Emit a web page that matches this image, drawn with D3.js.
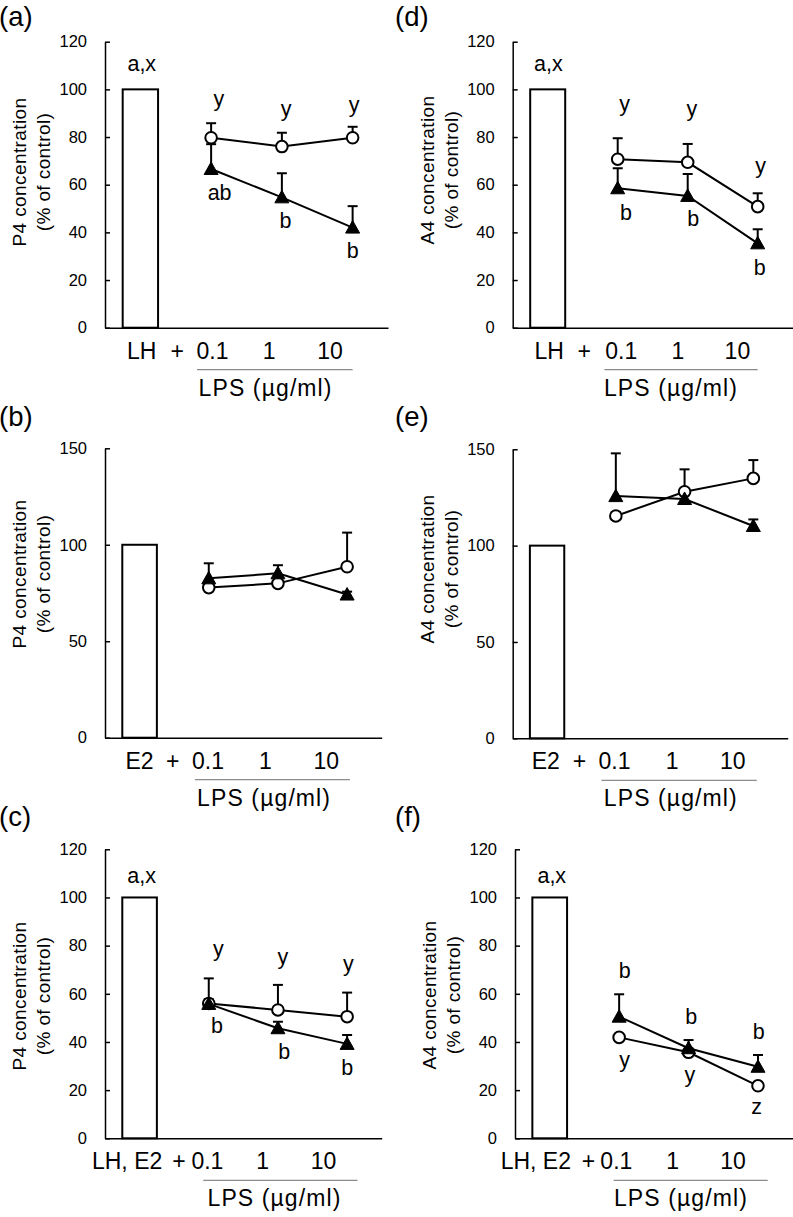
<!DOCTYPE html>
<html>
<head>
<meta charset="utf-8">
<script src="https://cdn.jsdelivr.net/npm/d3@7/dist/d3.min.js"></script>
<style>
  html, body { margin: 0; padding: 0; background: #fff; }
  svg { display: block; font-family: "Liberation Sans", Arial, sans-serif; }
</style>
</head>
<body>
<svg id="chart" width="793" height="1217"></svg>
<script>
// ---------------- DATA ----------------
const doses = ["0.1", "1", "10"];
const controlValue = 100;

// (a) P4, LH
const circleA = [79.7, 76.0, 79.7];
const circleErrA = [6.1, 5.8, 4.6];
const triA = [66.6, 54.7, 42.0];
const triErrA = [10.4, 10.1, 9.0];
// (b) P4, E2
const circleB = [77.8, 80.0, 88.6];
const circleErrB = [3.0, 4.0, 17.7];
const triB = [82.6, 85.2, 74.2];
const triErrB = [7.8, 4.2, 1.5];
// (c) P4, LH+E2
const circleC = [56.0, 53.3, 50.5];
const circleErrC = [10.4, 10.4, 10.0];
const triC = [55.8, 45.7, 39.2];
const triErrC = [2.0, 2.7, 3.7];
// (d) A4, LH
const circleD = [70.7, 69.4, 50.8];
const circleErrD = [8.8, 7.7, 5.6];
const triD = [58.5, 55.3, 35.4];
const triErrD = [8.4, 9.2, 5.9];
// (e) A4, E2
const circleE = [115.4, 128.0, 134.9];
const circleErrE = [2.0, 11.6, 9.5];
const triE = [125.7, 124.2, 110.2];
const triErrE = [22.2, 3.0, 3.4];
// (f) A4, LH+E2
const circleF = [41.9, 35.7, 21.8];
const circleErrF = [1.0, 1.0, 1.0];
const triF = [50.5, 37.4, 29.7];
const triErrF = [9.3, 3.4, 4.9];

// tick labels
const ticksLH = ["LH", "+", "0.1", "1", "10"];
const ticksE2 = ["E2", "+", "0.1", "1", "10"];
const ticksLHE2 = ["LH, E2", "+", "0.1", "1", "10"];
const yTicks120 = [0, 20, 40, 60, 80, 100, 120];
const yTicks150 = [0, 50, 100, 150];
const lpsLabel = "LPS (\u00b5g/ml)";
const titleP4 = "P4 concentration";
const titleA4 = "A4 concentration";
const titleSub = "(% of control)";

// significance letters: category index, value height, text
const lettersA = [[0, 107.7, "a,x"], [1, 93.2, "y"], [2, 88.9, "y"], [3, 90.4, "y"], [1, 53.6, "ab"], [2, 41.7, "b"], [3, 29.1, "b"]];
const lettersB = [];
const lettersC = [[0, 106, "a,x"], [1, 75.6, "y"], [2, 72.3, "y"], [3, 69.4, "y"], [1, 43.9, "b"], [2, 32.8, "b"], [3, 26.1, "b"]];
const lettersD = [[0, 107.7, "a,x"], [1, 90.8, "y"], [2, 88.7, "y"], [3, 64.8, "y"], [1, 45.0, "b"], [2, 42.8, "b"], [3, 22.2, "b"]];
const lettersE = [];
const lettersF = [[0, 106, "a,x"], [1, 66.7, "b"], [2, 47.6, "b"], [3, 41.1, "b"], [1, 29.8, "y"], [2, 23.5, "y"], [3, 10.2, "z"]];

// ---------------- LAYOUT ----------------
const panels = [
  {tag: "(a)", ox: 0,   oy: 0,   ax: 105,   axEnd: 388,   yTop: 41.7,  yBot: 327.7,  yMax: 120, yTicks: yTicks120, title: titleP4, titleY: 172, ticks: ticksLH, tickPos: [0.02, 0.52, 1.02, 1.82, 2.68], line: [0.8, 3.0], lpsX: 1.77,
   c: circleA, ce: circleErrA, t: triA, te: triErrA, letters: lettersA, ldx: [0.02, 0.11, 0.06, 0.02, 0.12, 0.05, 0.0]},
  {tag: "(b)", ox: 0,   oy: 400, ax: 105,   axEnd: 381.7, yTop: 448.3, yBot: 737.7,  yMax: 150, yTicks: yTicks150, title: titleP4, titleY: 574, ticks: ticksE2, tickPos: [0, 0.48, 0.99, 1.82, 2.7], line: [0.8, 3.04], lpsX: 1.8,
   c: circleB, ce: circleErrB, t: triB, te: triErrB, letters: lettersB, ldx: []},
  {tag: "(c)", ox: 0,   oy: 800, ax: 105,   axEnd: 381.7, yTop: 849.3, yBot: 1138.3, yMax: 120, yTicks: yTicks120, title: titleP4, titleY: 996, ticks: ticksLHE2, tickPos: [-0.18, 0.57, 0.98, 1.78, 2.66], line: [0.92, 3.15], lpsX: 1.95,
   c: circleC, ce: circleErrC, t: triC, te: triErrC, letters: lettersC, ldx: [0.03, 0.14, 0.07, 0.02, 0.12, 0.09, 0.0]},
  {tag: "(d)", ox: 396, oy: 0,   ax: 512.7, axEnd: 792.7, yTop: 41.7,  yBot: 327.7,  yMax: 120, yTicks: yTicks120, title: titleA4, titleY: 170, ticks: ticksLH, tickPos: [0.02, 0.52, 1.05, 1.86, 2.71], line: [0.81, 3.0], lpsX: 1.76,
   c: circleD, ce: circleErrD, t: triD, te: triErrD, letters: lettersD, ldx: [0.01, 0.1, 0.06, 0.04, 0.12, 0.08, 0.03]},
  {tag: "(e)", ox: 396, oy: 400, ax: 512.7, axEnd: 787.7, yTop: 449.3, yBot: 738.3,  yMax: 150, yTicks: yTicks150, title: titleA4, titleY: 569, ticks: ticksE2, tickPos: [-0.02, 0.47, 0.98, 1.82, 2.7], line: [0.79, 3.05], lpsX: 1.8,
   c: circleE, ce: circleErrE, t: triE, te: triErrE, letters: lettersE, ldx: []},
  {tag: "(f)", ox: 396, oy: 800, ax: 515,   axEnd: 792.7, yTop: 849.3, yBot: 1138.3, yMax: 120, yTicks: yTicks120, title: titleA4, titleY: 995, ticks: ticksLHE2, tickPos: [-0.2, 0.56, 0.96, 1.77, 2.64], line: [0.92, 3.14], lpsX: 1.89,
   c: circleF, ce: circleErrF, t: triF, te: triErrF, letters: lettersF, ldx: [0.03, 0.08, 0.04, 0.01, 0.08, 0.02, -0.02]}
];

const svg = d3.select("#chart");
const FONT = "'Liberation Sans', Arial, sans-serif";

panels.forEach(p => {
  const g = svg.append("g");
  const x = d3.scaleLinear().domain([-0.5, 3.5]).range([p.ax, p.axEnd]);
  const y = d3.scaleLinear().domain([0, p.yMax]).range([p.yBot, p.yTop]);

  // panel tag
  g.append("text").attr("x", p.ox - 1).attr("y", p.oy + 26)
    .attr("font-size", 27.5).attr("fill", "#000").text(p.tag);

  // y title
  const tg = g.append("g").attr("transform", `translate(${p.ax - 79},${p.titleY}) rotate(-90)`);
  tg.append("text").attr("text-anchor", "middle").attr("font-size", 19).attr("letter-spacing", 0.4)
    .attr("fill", "#000").text(p.title);
  tg.append("text").attr("y", 24).attr("text-anchor", "middle").attr("font-size", 19).attr("letter-spacing", 0.4)
    .attr("fill", "#000").text(titleSub);

  // bar (control)
  const bw = (x(1) - x(0)) * 0.5;
  g.append("rect").attr("x", x(0) - bw / 2).attr("y", y(controlValue))
    .attr("width", bw).attr("height", y(0) - y(controlValue))
    .attr("fill", "#fff").attr("stroke", "#000").attr("stroke-width", 2);

  // y axis
  const yAxis = d3.axisLeft(y).tickValues(p.yTicks).tickSizeInner(-5).tickSizeOuter(0).tickPadding(18);
  const ya = g.append("g").attr("transform", `translate(${p.ax},0)`).call(yAxis);
  ya.selectAll("path, line").attr("stroke", "#000").attr("stroke-width", 1.5);
  ya.selectAll("text").attr("font-size", 16.5).attr("font-family", FONT).attr("fill", "#000");

  // x axis line
  const xAxis = d3.axisBottom(x).tickValues([]).tickSizeOuter(0);
  const xa = g.append("g").attr("transform", `translate(0,${p.yBot})`).call(xAxis);
  xa.selectAll("path").attr("stroke", "#000").attr("stroke-width", 1.5);

  // x tick labels
  p.ticks.forEach((t, i) => {
    g.append("text").attr("x", x(p.tickPos[i])).attr("y", p.yBot + 31)
      .attr("text-anchor", "middle").attr("font-size", 23).attr("fill", "#000").text(t);
  });
  // LPS grouping line & label
  g.append("line").attr("x1", x(p.line[0])).attr("x2", x(p.line[1]))
    .attr("y1", p.yBot + 42).attr("y2", p.yBot + 42)
    .attr("stroke", "#8c8c8c").attr("stroke-width", 1.2);
  g.append("text").attr("x", x(p.lpsX)).attr("y", p.yBot + 68)
    .attr("text-anchor", "middle").attr("font-size", 23).attr("letter-spacing", 1.1)
    .attr("fill", "#000").text(lpsLabel);

  const idx = [1, 2, 3];
  const line = d3.line().x(d => x(d[0])).y(d => y(d[1]));
  const circPts = idx.map((k, i) => [k, p.c[i], p.ce[i]]);
  const triPts = idx.map((k, i) => [k, p.t[i], p.te[i]]);

  // connecting lines
  [triPts, circPts].forEach(pts => {
    g.append("path").attr("d", line(pts)).attr("fill", "none")
      .attr("stroke", "#000").attr("stroke-width", 2);
  });
  // error bars (upward)
  [triPts, circPts].forEach(pts => {
    pts.forEach(d => {
      const xx = x(d[0]), y0 = y(d[1]), y1 = y(d[1] + d[2]);
      g.append("line").attr("x1", xx).attr("x2", xx).attr("y1", y0).attr("y2", y1)
        .attr("stroke", "#000").attr("stroke-width", 2);
      g.append("line").attr("x1", xx - 5).attr("x2", xx + 5).attr("y1", y1).attr("y2", y1)
        .attr("stroke", "#000").attr("stroke-width", 2);
    });
  });
  // circle markers
  circPts.forEach(d => {
    g.append("circle").attr("cx", x(d[0])).attr("cy", y(d[1])).attr("r", 5.8)
      .attr("fill", "#fff").attr("stroke", "#000").attr("stroke-width", 2);
  });
  // triangle markers
  triPts.forEach(d => {
    const cx = x(d[0]), cy = y(d[1]);
    g.append("path").attr("d", `M${cx},${cy - 7}L${cx + 7},${cy + 5.5}L${cx - 7},${cy + 5.5}Z`)
      .attr("fill", "#000").attr("stroke", "#000").attr("stroke-width", 1);
  });

  // significance letters
  p.letters.forEach((L, i) => {
    g.append("text").attr("x", x(L[0] + (p.ldx[i] || 0))).attr("y", y(L[1]))
      .attr("text-anchor", "middle").attr("font-size", 21.5).attr("fill", "#000").text(L[2]);
  });
});
</script>
</body>
</html>
